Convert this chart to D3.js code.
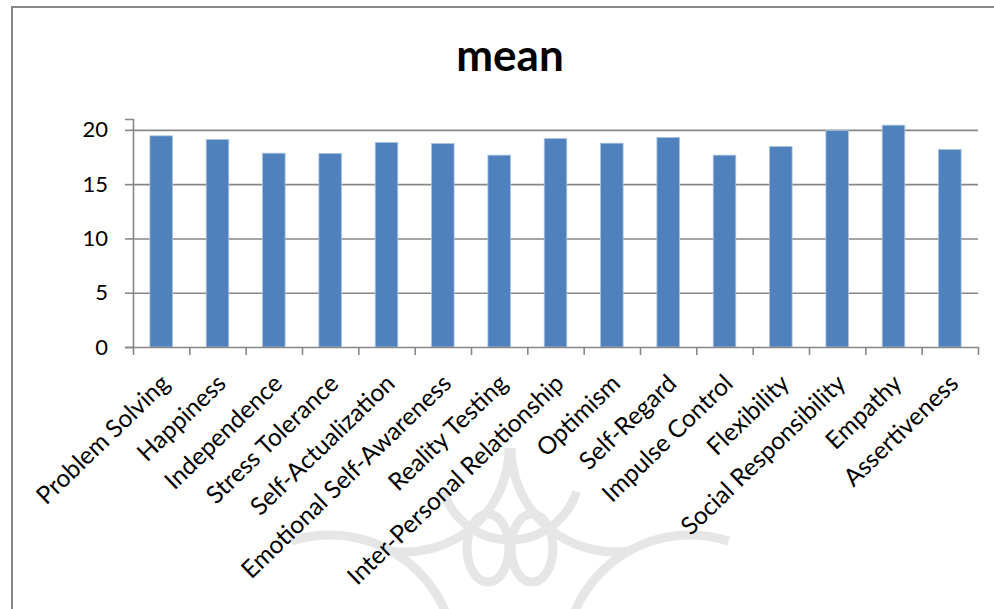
<!DOCTYPE html>
<html>
<head>
<meta charset="utf-8">
<script src="https://cdn.jsdelivr.net/npm/d3@7/dist/d3.min.js"></script>
<style>
  html, body { margin: 0; padding: 0; background: #fff; }
  svg { display: block; }
  text { font-family: Lato, "Open Sans", sans-serif; fill: #000; }
</style>
</head>
<body>
<svg id="chart" width="994" height="609"></svg>
<script>
// Mean score per emotional-intelligence component
const categories = [
  "Problem Solving", "Happiness", "Independence", "Stress Tolerance",
  "Self-Actualization", "Emotional Self-Awareness", "Reality Testing",
  "Inter-Personal Relationship", "Optimism", "Self-Regard", "Impulse Control",
  "Flexibility", "Social Responsibility", "Empathy", "Assertiveness"
];
const meanValues = [
  19.45, 19.11, 17.85, 17.82, 18.83, 18.74, 17.67,
  19.20, 18.77, 19.29, 17.67, 18.46, 19.94, 20.43, 18.19
];
const yTicks = [0, 5, 10, 15, 20];
const yMax = 21;
const chartTitle = "mean";

const W = 994, H = 609;
const plot = { left: 133, right: 978, top: 119, bottom: 347 };

const svg = d3.select("#chart");
svg.append("rect").attr("width", W).attr("height", H).attr("fill", "#fff");

// faint decorative emblem behind the lower part of the chart
const deco = svg.append("g")
  .attr("fill", "none")
  .attr("stroke", "#e6e6e6")
  .attr("stroke-width", 9);
const arcGen = d3.arc();
const emblemArcs = [
  { cx: 405, cy: 448, r: 104, a0: Math.PI * 0.5, a1: Math.PI * 1.05 },
  { cx: 615, cy: 448, r: 104, a0: Math.PI * 0.95, a1: Math.PI * 1.5 },
  { cx: 330, cy: 660, r: 125, a0: -Math.PI * 0.1, a1: Math.PI * 0.45 },
  { cx: 690, cy: 660, r: 125, a0: -Math.PI * 0.45, a1: Math.PI * 0.1 },
  { cx: 510, cy: 470, r: 70, a0: Math.PI * 0.6, a1: Math.PI * 1.4 }
];
deco.selectAll("path").data(emblemArcs).join("path")
  .attr("transform", d => `translate(${d.cx},${d.cy})`)
  .attr("d", d => arcGen({ innerRadius: d.r, outerRadius: d.r, startAngle: d.a0, endAngle: d.a1 }));
deco.selectAll("ellipse").data([{ cx: 488, cy: 548 }, { cx: 532, cy: 548 }]).join("ellipse")
  .attr("cx", d => d.cx).attr("cy", d => d.cy).attr("rx", 21).attr("ry", 34);

// outer chart border
svg.append("rect")
  .attr("x", 12).attr("y", 7).attr("width", W + 20).attr("height", H + 20)
  .attr("fill", "none").attr("stroke", "#878787").attr("stroke-width", 2);

// title
svg.append("text")
  .attr("x", 510).attr("y", 71)
  .attr("text-anchor", "middle")
  .attr("font-weight", 700)
  .attr("font-size", 44)
  .text(chartTitle);

// scales
const x = d3.scaleBand()
  .domain(categories)
  .range([plot.left, plot.right])
  .paddingInner(0.6)
  .paddingOuter(0.3);
const y = d3.scaleLinear().domain([0, yMax]).range([plot.bottom, plot.top]);
const xEdge = d3.scaleLinear().domain([0, categories.length]).range([plot.left, plot.right]);

// horizontal gridlines
const grid = svg.append("g")
  .attr("transform", `translate(${plot.left},0)`)
  .call(d3.axisLeft(y).tickValues(yTicks.filter(v => v > 0)).tickSize(-(plot.right - plot.left)).tickFormat(""));
grid.select(".domain").remove();
grid.selectAll("line").attr("stroke", "#878787").attr("stroke-width", 1.6);

// bars
svg.append("g").selectAll("rect").data(meanValues).join("rect")
  .attr("x", (d, i) => x(categories[i]))
  .attr("y", d => y(d))
  .attr("width", x.bandwidth())
  .attr("height", d => y(0) - y(d))
  .attr("fill", "#4f81bd")
  .attr("stroke", "#a9c1e0")
  .attr("stroke-width", 0.8);

// y axis
const yAxis = svg.append("g")
  .attr("transform", `translate(${plot.left},0)`)
  .call(d3.axisLeft(y).tickValues(yTicks).tickSize(8).tickPadding(17));
yAxis.select(".domain").attr("stroke", "#878787").attr("stroke-width", 1.6);
yAxis.selectAll("line").attr("stroke", "#878787").attr("stroke-width", 1.6);
yAxis.selectAll("text")
  .attr("font-family", "Lato, sans-serif")
  .attr("font-size", 22)
  .attr("fill", "#000");

// x axis with tick marks between categories
const xAxis = svg.append("g")
  .attr("transform", `translate(0,${plot.bottom})`)
  .call(d3.axisBottom(xEdge).tickValues(d3.range(categories.length + 1)).tickSize(8).tickSizeOuter(0).tickFormat(""));
xAxis.select(".domain").attr("stroke", "#878787").attr("stroke-width", 1.6);
xAxis.selectAll("line").attr("stroke", "#878787").attr("stroke-width", 1.6);

// rotated category labels
svg.append("g").selectAll("text").data(categories).join("text")
  .attr("transform", d => `translate(${x(d) + x.bandwidth() / 2 + 4},379) rotate(-44)`)
  .attr("text-anchor", "end")
  .attr("dy", "0.35em")
  .attr("font-size", 24.5)
  .text(d => d);
</script>
</body>
</html>
